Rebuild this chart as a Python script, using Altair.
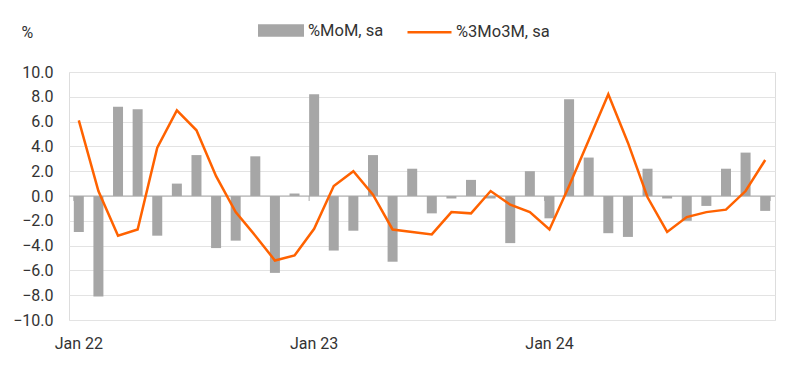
import altair as alt
import pandas as pd

months = [f"{m} {y}" for y in ["22", "23", "24"] for m in
          ["Jan", "Feb", "Mar", "Apr", "May", "Jun", "Jul", "Aug", "Sep", "Oct", "Nov", "Dec"]]

mom = [-2.9, -8.1, 7.2, 7.0, -3.2, 1.0, 3.3, -4.2, -3.6, 3.2, -6.2, 0.2,
       8.2, -4.4, -2.8, 3.3, -5.3, 2.2, -1.4, -0.2, 1.3, -0.2, -3.8, 2.0,
       -1.8, 7.8, 3.1, -3.0, -3.3, 2.2, -0.2, -2.0, -0.8, 2.2, 3.5, -1.2]

m3m3 = [6.1, 0.4, -3.2, -2.7, 3.9, 6.9, 5.3, 1.6, -1.3, -3.2, -5.2, -4.8,
        -2.65, 0.8, 2.0, 0.1, -2.7, -2.9, -3.1, -1.3, -1.4, 0.4, -0.7, -1.3,
        -2.7, 0.8, 4.5, 8.2, 4.3, -0.1, -2.9, -1.7, -1.3, -1.1, 0.4, 2.9]

y_ticks = [-10, -8, -6, -4, -2, 0, 2, 4, 6, 8, 10]
year_starts = ["Jan 22", "Jan 23", "Jan 24"]
year_ends = ["Dec 24"]

s_mom = "%MoM, sa"
s_3m = "%3Mo3M, sa"

df = pd.DataFrame({"month": months, "mom": mom, "m3m3": m3m3,
                   "s1": [s_mom] * len(months), "s2": [s_3m] * len(months)})

FONT = "Roboto"
TXT = "#333333"

xscale = alt.Scale(domain=months, paddingInner=0.49, paddingOuter=0.245)

x = alt.X("month:O", scale=xscale, sort=months, title=None,
          axis=alt.Axis(labelExpr="indexof(datum.value, 'Jan') == 0 ? datum.value : ''",
                        labelAngle=0, ticks=False, domain=False, labelPadding=15,
                        labelFontSize=16, labelColor=TXT, labelFont=FONT))

y = alt.Y("mom:Q", scale=alt.Scale(domain=[-10, 10], nice=False),
          axis=alt.Axis(values=y_ticks, tickCount=len(y_ticks), format=".1f", title="%",
                        titleAngle=0, titleAlign="left", titleBaseline="middle",
                        titleX=-48, titleY=-40, titleFontSize=16, titleFontWeight="normal",
                        titleColor=TXT, titleFont=FONT, labelOverlap=False,
                        labelFontSize=16, labelColor=TXT, labelFont=FONT, labelPadding=16,
                        ticks=False, domain=False, gridColor="#e3e3e3", gridWidth=1))

bars = alt.Chart(df).mark_bar(opacity=1).encode(
    x=x, y=y,
    color=alt.Color("s1:N",
                    scale=alt.Scale(domain=[s_mom], range=["#a6a6a6"]),
                    legend=alt.Legend(title=None, orient="none", legendX=189, legendY=-64.5,
                                      symbolType="M-1,-0.27H1V0.27H-1Z", symbolSize=2116,
                                      symbolStrokeWidth=0, symbolOpacity=1, labelOffset=4,
                                      labelFontSize=16.5, labelColor=TXT, labelFont=FONT, padding=0)),
)

line = alt.Chart(df).mark_line(strokeWidth=2.5).encode(
    x=alt.X("month:O", scale=xscale, sort=months),
    y=alt.Y("m3m3:Q"),
    stroke=alt.Stroke("s2:N",
                      scale=alt.Scale(domain=[s_3m], range=["#ff6200"]),
                      legend=alt.Legend(title=None, orient="none", legendX=337, legendY=-63.3,
                                        symbolType="stroke", symbolSize=1936,
                                        symbolStrokeWidth=2.5, labelOffset=3,
                                        labelFontSize=16.5, labelColor=TXT, labelFont=FONT, padding=0)),
)

zero = alt.Chart(pd.DataFrame({"v": [0]})).mark_rule(color="#a8a8a8", strokeWidth=1).encode(
    y=alt.Y("v:Q")
)

ticks_start = alt.Chart(pd.DataFrame({"month": year_starts, "a": [0] * 3, "b": [-0.4] * 3})).mark_rule(
    color="#a8a8a8").encode(
    x=alt.X("month:O", scale=xscale, sort=months, bandPosition=0),
    y=alt.Y("a:Q"), y2="b:Q")

ticks_end = alt.Chart(pd.DataFrame({"month": year_ends, "a": [0], "b": [-0.4]})).mark_rule(
    color="#a8a8a8").encode(
    x=alt.X("month:O", scale=xscale, sort=months, bandPosition=1),
    y=alt.Y("a:Q"), y2="b:Q")

chart = alt.layer(bars, zero, ticks_start, ticks_end, line).resolve_scale(
    color="independent", stroke="independent"
).properties(
    width=706, height=248,
    autosize=alt.AutoSizeParams(type="none"),
    padding={"left": 61, "top": 64, "right": 17, "bottom": 40},
).configure_view(stroke=None).configure(font=FONT)

chart.save("out.html", embed_options={"renderer": "svg", "actions": False})
